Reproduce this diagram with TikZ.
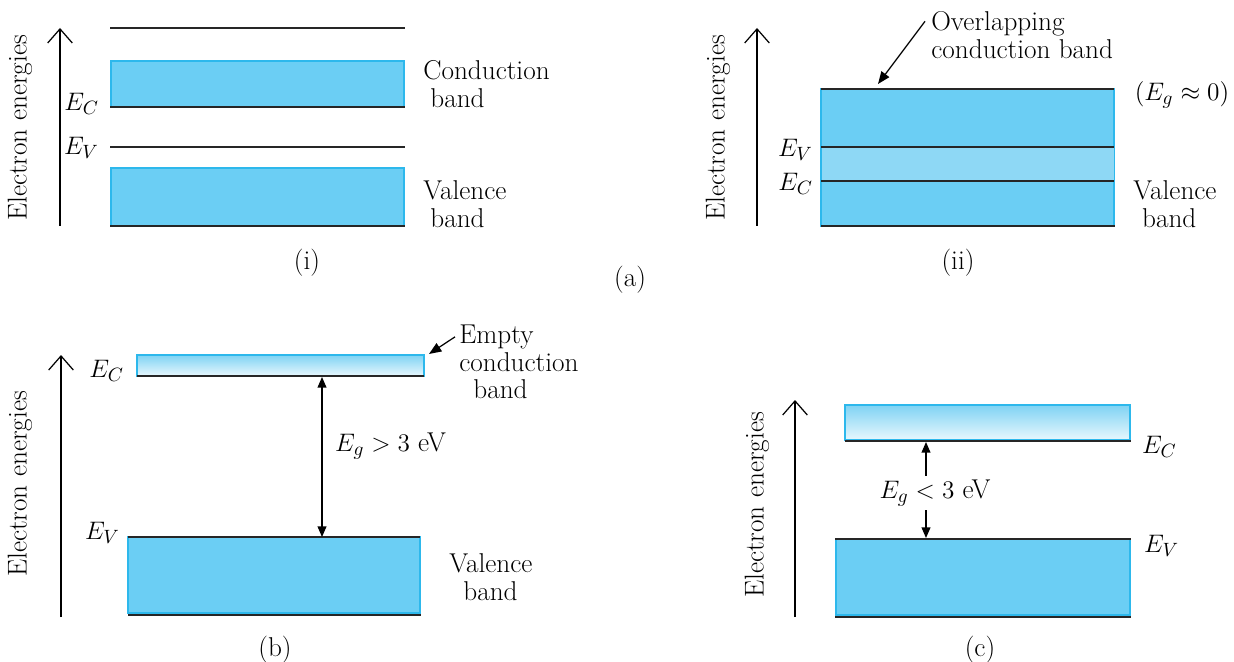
\documentclass[tikz,border=0pt]{standalone}
\usepackage{tikz}
\usetikzlibrary{arrows.meta}
\usepackage{xcolor}
\definecolor{bandcyan}{HTML}{6BCEF4}
\definecolor{bandpale}{HTML}{8ED8F5}
\definecolor{bandrim}{HTML}{2DB8EC}
\definecolor{bandfade}{HTML}{E8F7FD}

\begin{document}
\begin{tikzpicture}[x=0.02cm,y=-0.02cm,font=\fontsize{15.5}{15.6}\selectfont,
  axis/.style={line width=0.7pt,-{Straight Barb[length=8pt,width=14pt]}},
  edge/.style={line width=0.9pt,black!85},
  band/.style={fill=bandcyan,draw=bandrim,line width=0.6pt},
  emptyband/.style={top color=bandpale!85!bandrim,bottom color=bandfade,draw=bandrim,line width=0.6pt},
  gap/.style={line width=0.7pt,{Triangle[length=6pt,width=5pt]}-{Triangle[length=6pt,width=5pt]}},
  pointer/.style={line width=0.7pt,-{Triangle[length=7pt,width=5.5pt]}},
  axlabel/.style={rotate=90},
  txt/.style={align=left,inner sep=0pt}]
\useasboundingbox (0,0) rectangle (1234,662);
% (i) insulator-like levels with a gap
\draw[axis] (60,226) -- (60,28);
\node[axlabel] (axlabI) at (20,128) {Electron energies};
\draw[edge] (110,28) -- (405,28);
\draw[band] (111,61) rectangle (404,107);
\draw[edge] (110,107) -- (405,107);
\node[anchor=east] (ecI) at (105,104) {$E_C$};
\draw[edge] (110,147) -- (405,147);
\node[anchor=east] (evI) at (105,148) {$E_V$};
\draw[band] (111,168) rectangle (404,226);
\draw[edge] (110,226) -- (405,226);
\node[txt,anchor=west] (cbI) at (423,84) {Conduction\\\hspace{4pt}band};
\node[txt,anchor=west] (vbI) at (423,204) {Valence\\\hspace{4pt}band};
\node (capI) at (307,263) {(i)};
\node (capA) at (630,280) {(a)};
% (ii) overlapping bands
\draw[axis] (757,226) -- (757,28);
\node[axlabel] (axlabII) at (718,128) {Electron energies};
\draw[band] (821,89) rectangle (1114,226);
\fill[bandpale] (821.5,147) rectangle (1113.5,181);
\draw[edge] (821,89) -- (1114,89);
\draw[edge] (821,147) -- (1114,147);
\draw[edge] (821,181) -- (1114,181);
\draw[edge] (821,226) -- (1115,226);
\node[anchor=east] (evII) at (819,150) {$E_V$};
\node[anchor=east] (ecII) at (819,184) {$E_C$};
\node[txt,anchor=west] (ovII) at (931,35) {Overlapping\\conduction band};
\coordinate (ovtip) at (878,84);
\draw[pointer] ([shift={(-6,10)}]ovII.north west) -- (ovtip);
\node (egII) at (1182,95) {$(E_g \approx 0)$};
\node[txt,anchor=west] (vbII) at (1133,204) {Valence\\\hspace{5pt}band};
\node (capII) at (958,263) {(ii)};
% (b) wide gap
\draw[axis] (61,617) -- (61,355);
\node[axlabel] (axlabB) at (20,484) {Electron energies};
\draw[emptyband] (137,355) rectangle (424,376);
\draw[edge] (137,376) -- (424,376);
\node[anchor=east] (ecB) at (130,371) {$E_C$};
\draw[band] (128,537) rectangle (420,613);
\draw[edge] (128,537) -- (420,537);
\draw[edge] (128,615) -- (421,615);
\node[anchor=east] (evB) at (126,533) {$E_V$};
\coordinate (cbB) at (322,377);
\coordinate (vbB) at (322,537);
\draw[gap] (cbB) -- (vbB);
\node[anchor=west] (egB) at (329,446) {$E_g > 3$ eV};
\node[txt,anchor=west] (ecbB) at (459,362) {Empty\\conduction\\\hspace{8pt}band};
\coordinate (ecbtip) at (429,354);
\draw[pointer] ([shift={(-4,12)}]ecbB.north west) -- (ecbtip);
\node[txt,anchor=west] (vbB) at (449,577) {Valence\\\hspace{8pt}band};
\node (capB) at (275,650) {(b)};
% (c) small gap
\draw[axis] (795,617) -- (795,400);
\node[axlabel] (axlabC) at (757,505) {Electron energies};
\draw[emptyband] (845,405) rectangle (1130,440);
\draw[edge] (845,441) -- (1131,441);
\node[anchor=west] (ecC) at (1136,447) {$E_C$};
\draw[band] (836,539) rectangle (1130,615);
\draw[edge] (835,539) -- (1131,539);
\draw[edge] (835,617) -- (1131,617);
\node[anchor=west] (evC) at (1138,546) {$E_V$};
\coordinate (cbC) at (926,442);
\coordinate (vbC) at (926,538);
\draw[gap] (cbC) -- (vbC);
\node[fill=white,inner xsep=1pt,inner ysep=2pt] (egC) at (935,493) {$E_g < 3$ eV};
\node (capC) at (980,650) {(c)};
\end{tikzpicture}
\end{document}
